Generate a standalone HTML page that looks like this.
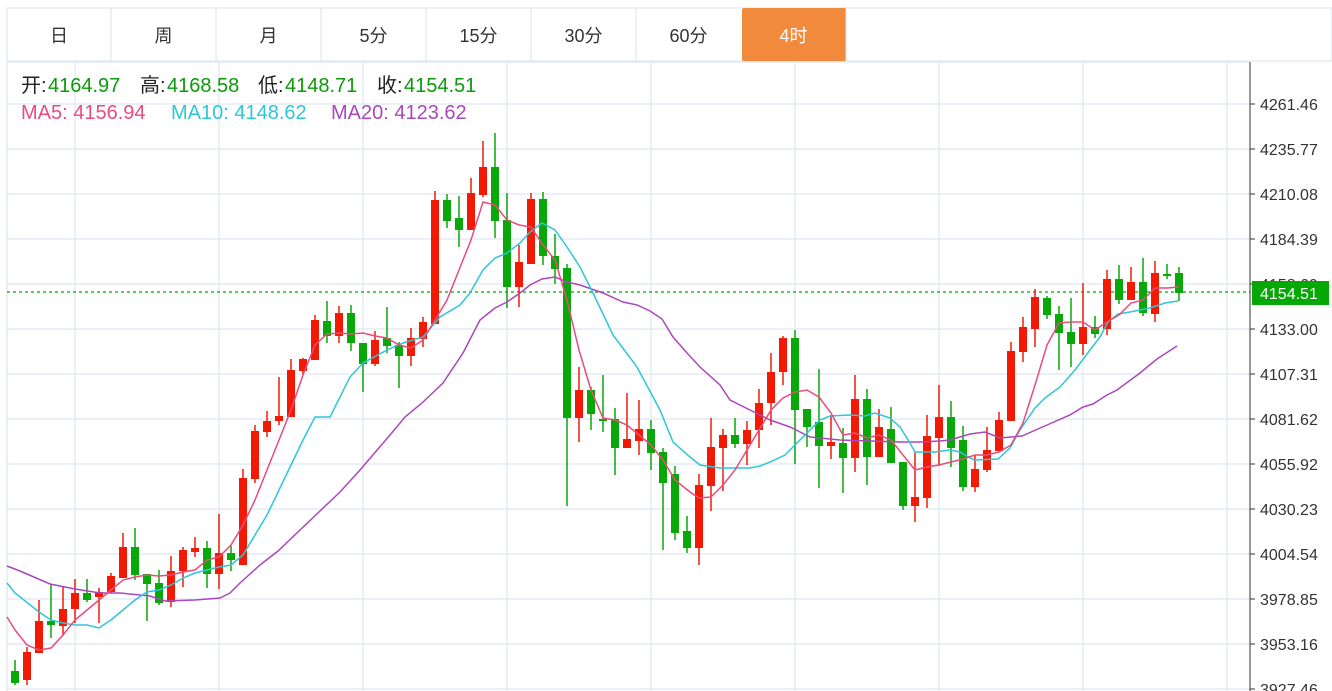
<!DOCTYPE html>
<html><head><meta charset="utf-8">
<style>
body{margin:0;background:#fff;width:1332px;height:691px;overflow:hidden;font-family:"Liberation Sans","Noto Sans CJK SC",sans-serif;}
</style></head>
<body>
<svg id="s" width="1332" height="691" xmlns="http://www.w3.org/2000/svg" style="position:absolute;left:0;top:0;font-family:'Liberation Sans','Noto Sans CJK SC',sans-serif">
<g id="grid" stroke="#e3ebf2" stroke-width="1.5"></g>
<line x1="7" y1="292" x2="1250" y2="292" stroke="#1fbf1f" stroke-width="1.5" stroke-dasharray="3,3"/>
<g id="candles"></g>
<polyline id="ma20" fill="none" stroke="#ab47bc" stroke-width="1.5"/>
<polyline id="ma10" fill="none" stroke="#2ec6d8" stroke-width="1.5"/>
<polyline id="ma5" fill="none" stroke="#ea4b7d" stroke-width="1.5"/>
<line x1="1250" y1="62" x2="1250" y2="691" stroke="#333" stroke-width="1"/>
<g id="axis" font-size="16" fill="#333"></g>
<rect x="1252" y="281" width="77" height="24" fill="#06a806"/>
<text x="1260" y="299" font-size="16" fill="#fff">4154.51</text>
<rect x="7" y="8" width="1325" height="53" fill="#fff" stroke="#dde3e8"/>
<g id="tabs" font-size="18" fill="#333" text-anchor="middle"></g>
<g font-size="20">
<text x="21" y="92" fill="#222">开:</text><text x="48" y="92" fill="#0a9a0a">4164.97</text>
<text x="140" y="92" fill="#222">高:</text><text x="167" y="92" fill="#0a9a0a">4168.58</text>
<text x="258" y="92" fill="#222">低:</text><text x="285" y="92" fill="#0a9a0a">4148.71</text>
<text x="377" y="92" fill="#222">收:</text><text x="404" y="92" fill="#0a9a0a">4154.51</text>
<text x="21" y="119" fill="#ea4b7d">MA5: 4156.94</text>
<text x="171" y="119" fill="#2ec6d8">MA10: 4148.62</text>
<text x="331" y="119" fill="#ab47bc">MA20: 4123.62</text>
</g>
</svg>
<script>
var NS="http://www.w3.org/2000/svg";
function el(t,a,p,txt){var e=document.createElementNS(NS,t);for(var k in a)e.setAttribute(k,a[k]);if(txt)e.textContent=txt;document.getElementById(p).appendChild(e);return e;}
el('line',{x1:7,y1:62,x2:1250,y2:62},'grid');
for(var y=104;y<=691;y+=45)el('line',{x1:7,y1:y,x2:1250,y2:y},'grid');
el('line',{x1:7,y1:62,x2:7,y2:691},'grid');
for(var x=75;x<1250;x+=144)el('line',{x1:x,y1:62,x2:x,y2:691},'grid');
var labs=["4261.46","4235.77","4210.08","4184.39","4158.69","4133.00","4107.31","4081.62","4055.92","4030.23","4004.54","3978.85","3953.16","3927.46"];
labs.forEach(function(l,i){var y=104+45*i;el('line',{x1:1250,y1:y,x2:1255,y2:y,stroke:'#333'},'axis');el('text',{x:1260,y:y+6},'axis',l);});
var tabs=["日","周","月","5分","15分","30分","60分","4时"];
var xs=[7,111,216,321,426,531,636,741,846];
for(var i=0;i<8;i++){
 if(i==7)el('rect',{x:742,y:8,width:104,height:53,fill:'#f28a3e',rx:2},'tabs');
 else if(i>0)el('line',{x1:xs[i],y1:8,x2:xs[i],y2:61,stroke:'#dde3e8'},'tabs');
 el('text',{x:(xs[i]+xs[i+1])/2,y:42,fill:i==7?'#fff':'#333'},'tabs',tabs[i]);
}
el('line',{x1:846,y1:8,x2:846,y2:61,stroke:'#dde3e8'},'tabs');
var C=[[671,683,660,685,0],[652,680,647,685,1],[621,653,600,653,1],[621,625,584,638,0],[609,626,587,636,1],[593,609,579,623,1],[593,600,579,602,0],[592,597,588,623,1],[576,592,573,593,1],[547,578,533,578,1],[547,575,528,580,0],[574,584,574,621,0],[583,603,570,605,0],[571,602,556,607,1],[550,571,547,587,1],[548,552,537,557,1],[548,574,541,588,0],[553,574,514,589,1],[553,560,546,571,0],[478,565,469,565,1],[431,479,425,483,1],[421,432,411,437,1],[416,421,377,425,1],[370,417,359,417,1],[359,371,358,375,1],[320,360,315,360,1],[321,336,301,343,0],[313,336,306,343,1],[313,343,305,351,0],[343,364,343,392,0],[340,364,331,366,1],[338,346,307,353,0],[345,356,342,388,0],[338,356,328,366,1],[322,339,317,347,1],[200,324,191,324,1],[200,221,194,228,0],[218,230,196,247,0],[193,230,178,230,1],[167,195,141,197,1],[167,221,133,238,0],[220,287,193,308,0],[262,287,245,307,1],[199,264,193,264,1],[199,256,192,265,0],[256,269,234,284,0],[268,418,264,506,0],[390,418,367,442,1],[390,414,387,430,0],[419,421,375,432,0],[419,448,408,475,0],[439,448,393,448,1],[429,441,400,455,1],[429,453,420,470,0],[452,483,448,550,0],[474,533,466,540,0],[531,548,516,553,0],[485,548,474,565,1],[447,486,418,511,1],[435,448,429,491,1],[435,444,418,448,0],[430,444,421,465,1],[403,430,389,448,1],[372,403,353,425,1],[338,372,336,385,1],[338,410,330,464,0],[409,427,409,447,0],[422,446,369,488,0],[442,446,415,459,1],[443,458,428,493,0],[399,458,375,472,1],[399,457,389,485,0],[427,457,409,457,1],[429,463,407,463,0],[462,506,462,510,0],[497,506,452,522,1],[436,498,415,508,1],[417,438,385,466,1],[417,448,401,467,0],[440,487,426,491,0],[469,487,455,492,1],[450,470,427,472,1],[420,451,412,451,1],[351,421,342,421,1],[327,352,317,362,1],[297,329,289,347,1],[298,315,296,319,0],[314,333,306,370,0],[332,344,298,367,0],[327,344,283,355,1],[327,334,316,338,0],[279,329,270,335,1],[279,300,265,304,0],[282,300,267,300,1],[282,313,258,316,0],[273,314,261,322,1],[274,276,264,279,0],[273,293,267,301,0]];
C.forEach(function(c,i){var x=15+12*i;var col=c[4]?'#f21a05':'#08a808';
 el('line',{x1:x,y1:c[2],x2:x,y2:c[3],stroke:col,'stroke-width':1.5},'candles');
 el('rect',{x:x-4,y:c[0],width:8,height:Math.max(2,c[1]-c[0]),fill:col},'candles');});
document.getElementById('ma5').setAttribute('points',"7,617 15,630 27,645 39,650 51,648 63,635 75,620 87,610 99,600 111,590 123,580 135,577 147,575 159,576 171,575 183,572 195,570 207,560 219,557 231,545 243,525 255,500 267,470 279,440 291,410 303,375 315,345 327,334 340,333 351,334 363,333 375,336 387,338 399,345 411,348 423,340 435,320 447,300 459,270 471,240 483,202 495,205 507,220 519,225 531,227 543,245 555,260 567,300 579,350 591,390 603,418 615,420 627,425 639,435 651,445 663,460 675,480 690,492 699,498 711,497 723,485 735,470 747,450 759,430 771,410 783,398 795,392 807,390 819,397 831,413 843,435 855,433 867,438 879,435 891,440 903,455 915,470 927,467 939,465 951,462 963,459 975,455 987,455 999,452 1011,445 1023,423 1035,385 1047,345 1059,323 1071,322 1083,322 1095,330 1107,322 1119,315 1131,303 1143,300 1155,288 1167,288 1179,287");
document.getElementById('ma10').setAttribute('points',"7,583 15,593 39,612 51,620 63,623 75,625 87,625 99,628 111,620 123,610 135,600 147,592 159,590 171,585 183,578 195,573 207,570 219,567 231,565 243,555 255,535 267,515 279,490 291,465 303,440 315,417 330,417 350,377 363,363 387,350 403,343 423,337 440,317 460,305 470,293 483,270 495,258 507,253 520,243 530,232 542,223 555,230 567,247 580,267 593,293 613,335 637,367 660,410 673,442 690,457 700,465 720,468 750,468 760,466 770,462 785,455 800,440 810,430 820,420 830,416 850,415 865,416 875,413 890,418 900,427 910,443 915,452 935,452 950,450 960,452 970,458 975,460 998,459 1010,448 1020,430 1035,408 1045,398 1060,387 1075,370 1090,350 1100,337 1108,322 1118,314 1130,312 1150,308 1165,303 1178,301");
document.getElementById('ma20').setAttribute('points',"7,566 20,571 50,584 75,589 100,593 120,593 140,595 150,596 165,601 195,600 220,598 230,593 240,583 260,565 278,551 300,530 320,511 340,492 360,470 390,435 405,417 422,403 443,383 463,353 480,320 490,312 495,308 507,302 520,293 530,285 542,279 555,277 567,282 580,285 603,293 623,302 637,305 650,311 662,319 673,337 687,353 700,367 720,385 730,400 750,410 770,420 790,427 810,437 840,440 870,441 900,442 920,442 940,441 950,440 970,434 985,432 1000,438 1022,436 1047,425 1070,415 1083,407 1093,404 1107,395 1117,390 1140,373 1157,359 1177,346");
</script>
</body></html>
